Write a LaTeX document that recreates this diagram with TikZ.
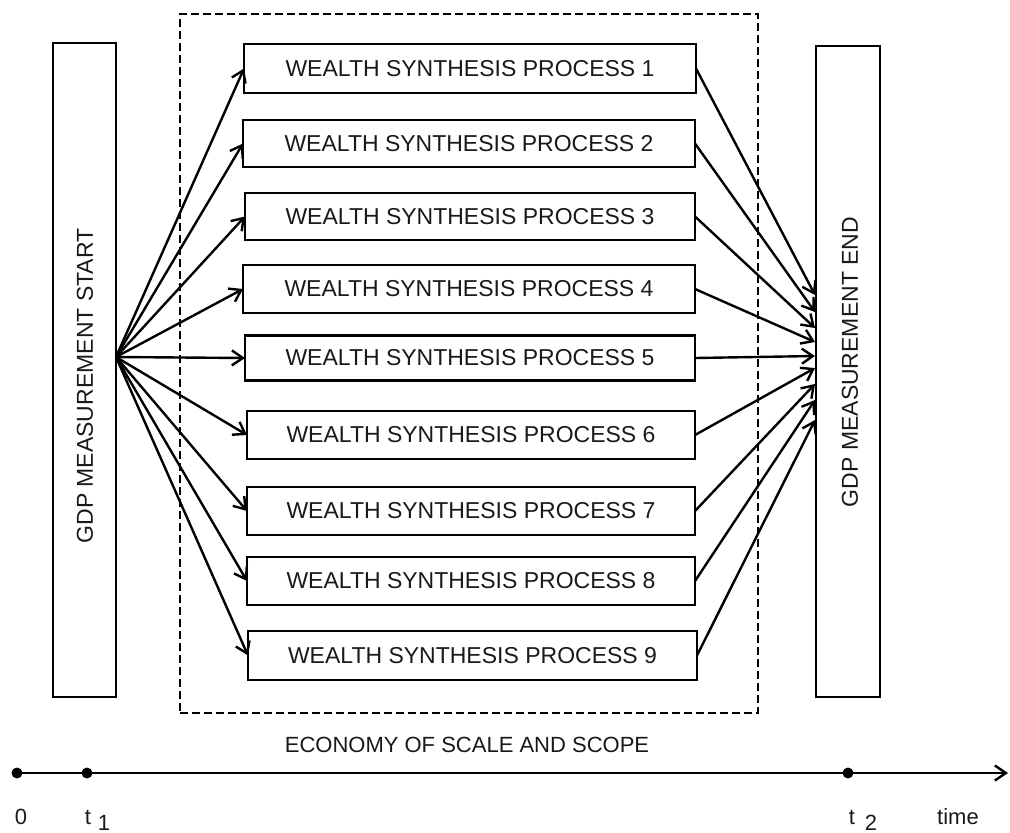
\documentclass[tikz,border=0pt]{standalone}
\usepackage{fontspec}
\setmainfont{Liberation Sans}
\usetikzlibrary{arrows.meta}
\begin{document}
\begin{tikzpicture}[x=1pt,y=-1pt,
  every node/.style={inner sep=0pt, outer sep=0pt},
  lbl/.style={font=\fontsize{23}{27}\selectfont, text=black!90},
  small/.style={font=\fontsize{22}{26}\selectfont, text=black!90},
  proc/.style={draw, line width=2.6pt, lbl},
  gdpbox/.style={draw, line width=2.6pt},
  conn/.style={line width=2.4pt, -{Straight Barb[length=11pt,width=15pt]}},
  dot/.style={circle, fill=black, minimum size=11pt},
]
\useasboundingbox (0,0) rectangle (1010,833);

% scope of the economy
\node[draw, line width=2.3pt, dash pattern=on 8pt off 4pt,
      minimum width=578pt, minimum height=699pt] (scope) at (469,363.5) {};
\node[small] (econ) at (467,745) {ECONOMY OF SCALE AND SCOPE};

% measurement boxes
\node[gdpbox, minimum width=63pt, minimum height=654pt] (start) at (84.5,370) {};
\node[lbl, rotate=90] (startlbl) at (85,386) {GDP MEASUREMENT START};
\node[gdpbox, minimum width=64pt, minimum height=651pt] (end) at (848,371.5) {};
\node[lbl, rotate=90] (endlbl) at (850,362) {GDP MEASUREMENT END};

% wealth synthesis processes
\node[proc, minimum width=452pt, minimum height=49pt] (p1) at (470,68.5) {WEALTH SYNTHESIS PROCESS 1};
\node[proc, minimum width=452pt, minimum height=47pt] (p2) at (469,143.5) {WEALTH SYNTHESIS PROCESS 2};
\node[proc, minimum width=450pt, minimum height=47pt] (p3) at (470,216.5) {WEALTH SYNTHESIS PROCESS 3};
\node[proc, minimum width=452pt, minimum height=48pt] (p4) at (469,289) {WEALTH SYNTHESIS PROCESS 4};
\node[proc, minimum width=450pt, minimum height=45pt] (p5) at (470,358) {WEALTH SYNTHESIS PROCESS 5};
\node[proc, minimum width=448pt, minimum height=48pt] (p6) at (471,435) {WEALTH SYNTHESIS PROCESS 6};
\node[proc, minimum width=448pt, minimum height=48pt] (p7) at (471,511) {WEALTH SYNTHESIS PROCESS 7};
\node[proc, minimum width=448pt, minimum height=48pt] (p8) at (471,581) {WEALTH SYNTHESIS PROCESS 8};
\node[proc, minimum width=449pt, minimum height=49pt] (p9) at (472.5,655.5) {WEALTH SYNTHESIS PROCESS 9};

% fan-out from the start and fan-in to the end
\coordinate (src) at (116,357);
\coordinate (e1) at (815,295);
\coordinate (e2) at (815,312);
\coordinate (e3) at (815,328);
\coordinate (e4) at (815,342);
\coordinate (e5) at (815,356);
\coordinate (e6) at (815,368);
\coordinate (e7) at (815,384);
\coordinate (e8) at (815,400);
\coordinate (e9) at (815,420);
\foreach \i in {1,...,9} {
  \draw[conn] (src) -- (p\i.west);
  \draw[conn] (p\i.east) -- (e\i);
}

% time axis
\node[dot] (zero) at (17,773) {};
\node[dot] (tone) at (87,773) {};
\node[dot] (ttwo) at (848,773) {};
\coordinate (tend) at (1008,773);
\draw[line width=2.4pt, -{Straight Barb[length=11pt,width=15pt]}] (zero.center) -- (tend);

\node[small, anchor=base] (l0) at (21,824) {0};
\node[small, anchor=base] (lt1) at (88,824) {t};
\node[small, anchor=base] (ls1) at (104,830) {1};
\node[small, anchor=base] (lt2) at (852,824) {t};
\node[small, anchor=base] (ls2) at (871,830) {2};
\node[small, anchor=base] (ltime) at (958,824) {time};
\end{tikzpicture}
\end{document}
